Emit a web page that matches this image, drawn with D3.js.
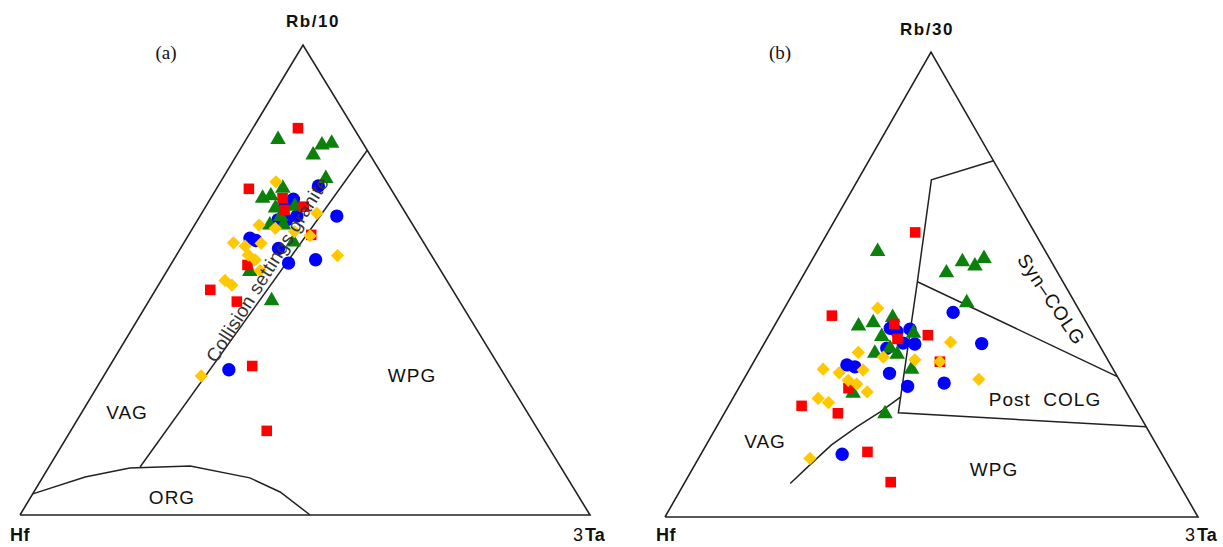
<!DOCTYPE html>
<html><head><meta charset="utf-8">
<script src="https://cdn.jsdelivr.net/npm/d3@7"></script>
<style>body{margin:0;background:#fff}svg{display:block}text{white-space:pre}</style>
</head><body>
<script>
// Ternary data: each point is [Rb%, Ta%]  (Hf% = 100 - Rb - Ta)
// Panel (a): Rb/10 – Hf – 3Ta
const aRed = [[82.3,7.9],[69.4,5.7],[67.4,12.6],[65.6,17.2],[64.9,14.2],[59.6,21.5],[53.2,13.5],[47.9,9.6],[45.4,15.5],[31.7,25.0],[17.9,34.4]];
const aGreen = [[79.9,5.6],[78.7,13.9],[79.1,15.4],[76.6,13.4],[71.6,18.1],[69.5,11.6],[67.4,9.1],[67.9,10.3],[65.7,15.6],[65.3,12.4],[63.5,14.2],[61.7,15.6],[61.7,13.2],[58.1,19.1],[51.8,14.6],[45.6,21.5]];
const aBlue = [[70.0,17.6],[67.2,14.6],[63.6,17.0],[63.6,24.0],[62.8,15.6],[62.8,14.1],[58.9,11.1],[58.4,12.4],[56.7,17.2],[54.3,24.9],[53.6,20.5],[30.9,21.3],[66.3,13.6]];
const aYellow = [[70.9,9.7],[61.7,11.3],[61.0,14.5],[64.2,20.2],[60.3,18.2],[57.9,8.7],[57.2,11.1],[57.8,13.6],[55.3,12.6],[54.3,14.3],[52.0,16.3],[55.2,28.3],[49.9,11.2],[48.9,12.9],[59.4,21.4],[29.6,17.1]];
// Panel (a) field boundaries
const aCollision = [[77.6,22.4],[10.2,16.0]];
const aORG = [[4.5,0],[8.1,7.4],[10.0,14.3],[10.4,24.7],[7.9,36.4],[4.9,43.2],[0,50.9]];

// Panel (b): Rb/30 – Hf – 3Ta
const bRed = [[61.2,16.4],[43.3,9.7],[41.5,22.3],[38.3,24.5],[39.1,29.8],[33.4,34.9],[23.9,13.7],[22.3,21.3],[14.0,31.0],[7.5,38.6],[27.7,20.6]];
const bGreen = [[57.1,11.4],[54.9,28.4],[54.0,31.2],[55.6,32.1],[52.5,26.6],[46.1,33.6],[41.1,15.8],[41.8,18.2],[42.9,21.3],[38.8,21.3],[39.5,26.9],[35.2,21.8],[36.3,24.1],[35.0,26.1],[31.8,30.4],[26.6,22.0],[22.2,30.2]];
const bBlue = [[44.0,32.1],[37.3,40.8],[40.6,22.0],[40.4,25.8],[37.2,28.3],[37.4,26.0],[36.3,23.5],[32.7,17.8],[32.3,19.5],[30.9,26.7],[28.1,31.5],[28.8,38.0],[13.5,26.5],[39.9,23.6]];
const bYellow = [[44.9,17.5],[37.6,34.8],[35.4,18.6],[34.4,23.8],[33.8,30.0],[33.4,34.9],[29.6,44.1],[31.8,13.8],[31.0,17.2],[31.6,21.4],[29.4,19.7],[28.6,21.7],[26.9,24.5],[25.5,16.0],[24.6,18.4],[12.6,20.9]];
// Panel (b) field boundaries
const bSynOuter = [[76.6,23.4],[72.5,13.8],[50.6,22.1],[22.4,32.6],[19.4,80.6]];
const bSynPost = [[50.6,22.1],[30.2,69.8]];
const bVAG = [[25.8,31.3],[22.6,29.1],[19.4,26.3],[15.5,23.5],[11.2,21.6],[7.2,19.9]];

const svg = d3.select("body").append("svg").attr("width",1223).attr("height",547);

function panel(cfg){
  const x = d3.scaleLinear().domain([0,100]).range([cfg.left,cfg.right]);
  const y = d3.scaleLinear().domain([0,100]).range([cfg.bottom,cfg.top]);
  const frac = (cfg.apexX-cfg.left)/(cfg.right-cfg.left);
  const px = d => x(d[1] + d[0]*frac);
  const py = d => y(d[0]);
  const g = svg.append("g");
  const line = d3.line().x(px).y(py);
  g.append("path").attr("d", line([[0,0],[0,100],[100,0],[0,0]])).attr("fill","none").attr("stroke","#222").attr("stroke-width",1.6).attr("stroke-linejoin","miter");
  cfg.bounds.forEach(b=>{
    g.append("path").attr("d", line(b)).attr("fill","none").attr("stroke","#222").attr("stroke-width",1.5);
  });
  const sym = (type,size)=>d3.symbol().type(type).size(size)();
  const series = [
    {d:cfg.blue, p:sym(d3.symbolCircle,140), c:"#0000ff", r:0},
    {d:cfg.green, p:sym(d3.symbolTriangle,105), c:"#0b800b", r:0},
    {d:cfg.red, p:sym(d3.symbolSquare,112), c:"#ff0000", r:0},
    {d:cfg.yellow, p:sym(d3.symbolSquare,88), c:"#ffc800", r:45}
  ];
  series.forEach(s=>{
    g.selectAll(null).data(s.d).enter().append("path")
      .attr("d",s.p).attr("fill",s.c)
      .attr("transform",d=>`translate(${px(d)},${py(d)}) rotate(${s.r})`);
  });
  return {g,px,py};
}

panel({left:20,right:590,bottom:515,top:45,apexX:303,
  red:aRed,green:aGreen,blue:aBlue,yellow:aYellow,bounds:[aCollision,aORG]});
panel({left:665,right:1198,bottom:517,top:52,apexX:931,
  red:bRed,green:bGreen,blue:bBlue,yellow:bYellow,bounds:[bSynOuter,bSynPost,bVAG]});

const sans = "Liberation Sans, Arial, sans-serif";
function txt(x,y,s,o={}){
  const t = svg.append("text").attr("x",x).attr("y",y).text(s)
    .attr("font-family",o.family||sans).attr("font-size",o.size||19)
    .attr("font-weight",o.weight||"normal").attr("fill",o.fill||"#111")
    .attr("letter-spacing",o.ls===undefined?1:o.ls)
    .attr("text-anchor",o.anchor||"middle");
  if(o.rotate!==undefined) t.attr("transform",`rotate(${o.rotate},${x},${y})`);
  if(o.dy) t.attr("dy",o.dy);
  return t;
}
function vertexTa(x,y){
  const t = svg.append("text").attr("x",x).attr("y",y).attr("font-family",sans).attr("font-size",18).attr("fill","#111");
  t.append("tspan").text("3");
  t.append("tspan").attr("dx",2).attr("font-weight","bold").text("Ta");
}
// Panel a labels
txt(313,27,"Rb/10",{weight:"bold",size:17,ls:1.5});
txt(166,59,"(a)",{family:"Liberation Serif, Times New Roman, serif",size:19,ls:0});
txt(10,541,"Hf",{weight:"bold",size:18,anchor:"start",ls:0.5});
vertexTa(573,541);
txt(127,419,"VAG");
txt(412,382,"WPG");
txt(172,504,"ORG");
txt(268,270,"Collision settings granite",{size:19,rotate:-58,fill:"#333",dy:"0.3em",ls:0.3});
// Panel b labels
txt(927,35,"Rb/30",{weight:"bold",size:17,ls:1.5});
txt(780,59,"(b)",{family:"Liberation Serif, Times New Roman, serif",size:19,ls:0});
txt(656,541,"Hf",{weight:"bold",size:18,anchor:"start",ls:0.5});
vertexTa(1185,541);
txt(1046,303,"Syn\u2013COLG",{rotate:56});
txt(1045,406,"Post  COLG");
txt(994,476,"WPG");
txt(765,448,"VAG");
</script>
</body></html>
